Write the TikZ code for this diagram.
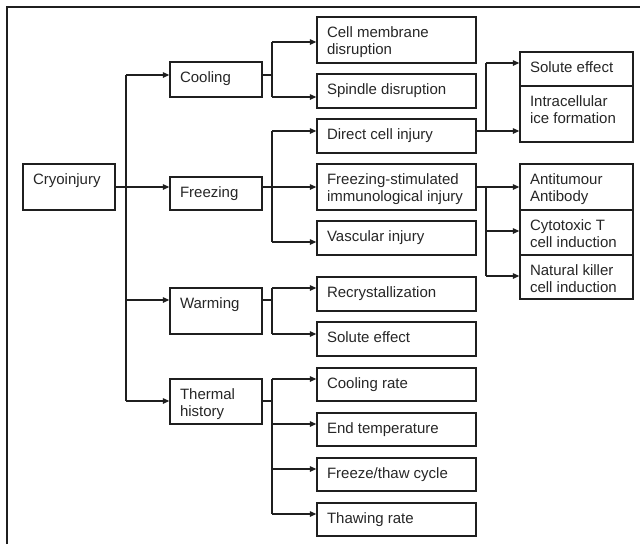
\documentclass[tikz,border=0pt]{standalone}
\usepackage{fontspec}
\setmainfont{Liberation Sans}
\usetikzlibrary{arrows.meta}
\tikzset{
  boxst/.style={draw=black!88, line width=1.3pt, inner sep=0pt, rectangle},
  txt/.style={anchor=north west, align=left, inner sep=0pt, text=black!85, font=\fontsize{15}{17}\selectfont},
  line/.style={draw=black!88, line width=1.2pt},
  conn/.style={line, -{Triangle[length=6.5pt,width=5.5pt]}},
}
\newcommand{\mybox}[6]{%
  \node[boxst, minimum width={#4-#2}, minimum height={#5-#3}] (#1) at ({(#2+#4)/2},{(#3+#5)/2}) {};
  \node[txt] (#1-t) at ([xshift=10.5pt,yshift=-9.4pt]#1.north west) {\strut #6};
}
\begin{document}
\begin{tikzpicture}[x=1pt,y=-1pt]
\useasboundingbox (0,0) rectangle (640,544);
\coordinate (fa) at (7,544); \coordinate (fb) at (7,7); \coordinate (fc) at (640,7);
\draw[line, line width=1.4pt] (fa) -- (fb) -- (fc);
% level 1
\mybox{cryo}{23}{164}{115}{210}{Cryoinjury}
\mybox{cool}{170}{62}{262}{97}{Cooling}
\mybox{freeze}{170}{177}{262}{210}{Freezing}
\mybox{warm}{170}{288}{262}{334}{Warming}
\mybox{therm}{170}{379}{262}{424}{Thermal\\history}
% level 2
\mybox{cmd}{317}{17}{476}{63}{Cell membrane\\disruption}
\mybox{spd}{317}{74}{476}{108}{Spindle disruption}
\mybox{dci}{317}{119}{476}{153}{Direct cell injury}
\mybox{fsi}{317}{164}{476}{210}{Freezing-stimulated\\immunological injury}
\mybox{vas}{317}{221}{476}{255}{Vascular injury}
\mybox{rec}{317}{277}{476}{311}{Recrystallization}
\mybox{sol}{317}{322}{476}{356}{Solute effect}
\mybox{crate}{317}{368}{476}{401}{Cooling rate}
\mybox{endt}{317}{413}{476}{446}{End temperature}
\mybox{fth}{317}{458}{476}{491}{Freeze/thaw cycle}
\mybox{thaw}{317}{503}{476}{536}{Thawing rate}
% level 3
\mybox{se}{520}{52}{633}{86}{Solute effect}
\mybox{ice}{520}{86}{633}{142}{Intracellular\\ice formation}
\mybox{anti}{520}{164}{633}{210}{Antitumour\\Antibody}
\mybox{cyto}{520}{210}{633}{255}{Cytotoxic T\\cell induction}
\mybox{nk}{520}{255}{633}{299}{Natural killer\\cell induction}
% trunk
\coordinate (t1) at (126,75);
\coordinate (t3) at (126,300);
\coordinate (t4) at (126,401);
\draw[line] (t1) -- (t4);
\draw[conn] (cryo.east) -- (cryo.east -| freeze.west);
\draw[conn] (t1) -- (t1 -| cool.west);
\draw[conn] (t3) -- (t3 -| warm.west);
\draw[conn] (t4) -- (t4 -| therm.west);
% cooling
\coordinate (ca) at (272,42); \coordinate (cb) at (272,75); \coordinate (cc) at (272,97);
\draw[line] (cb -| cool.east) -- (cb);
\draw[line] (ca) -- (cc);
\draw[conn] (ca) -- (ca -| cmd.west);
\draw[conn] (cc) -- (cc -| spd.west);
% freezing
\coordinate (fza) at (272,131); \coordinate (fzb) at (272,187); \coordinate (fzc) at (272,242);
\draw[line] (fzb -| freeze.east) -- (fzb);
\draw[line] (fza) -- (fzc);
\draw[conn] (fza) -- (fza -| dci.west);
\draw[conn] (fzb) -- (fzb -| fsi.west);
\draw[conn] (fzc) -- (fzc -| vas.west);
% warming
\coordinate (wa) at (272,288); \coordinate (wb) at (272,300); \coordinate (wc) at (272,334);
\draw[line] (wb -| warm.east) -- (wb);
\draw[line] (wa) -- (wc);
\draw[conn] (wa) -- (wa -| rec.west);
\draw[conn] (wc) -- (wc -| sol.west);
% thermal history
\coordinate (ha) at (272,379); \coordinate (hb) at (272,401); \coordinate (hc) at (272,424);
\coordinate (hd) at (272,469); \coordinate (he) at (272,514);
\draw[line] (hb -| therm.east) -- (hb);
\draw[line] (ha) -- (he);
\draw[conn] (ha) -- (ha -| crate.west);
\draw[conn] (hc) -- (hc -| endt.west);
\draw[conn] (hd) -- (hd -| fth.west);
\draw[conn] (he) -- (he -| thaw.west);
% direct cell injury
\coordinate (da) at (486,63); \coordinate (db) at (486,131);
\draw[line] (db -| dci.east) -- (db);
\draw[line] (da) -- (db);
\draw[conn] (da) -- (da -| se.west);
\draw[conn] (db) -- (db -| ice.west);
% immunological
\coordinate (ia) at (486,187); \coordinate (ib) at (486,231); \coordinate (ic) at (486,276);
\draw[line] (ia -| fsi.east) -- (ia);
\draw[line] (ia) -- (ic);
\draw[conn] (ia) -- (ia -| anti.west);
\draw[conn] (ib) -- (ib -| cyto.west);
\draw[conn] (ic) -- (ic -| nk.west);
\end{tikzpicture}
\end{document}
